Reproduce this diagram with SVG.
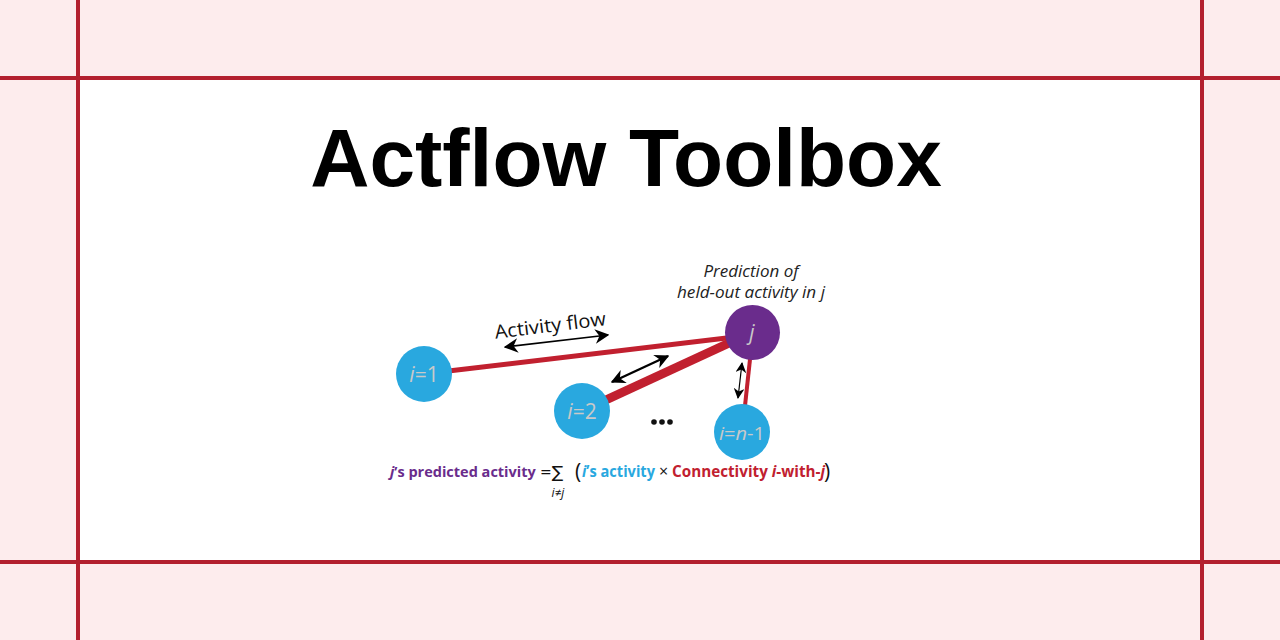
<svg xmlns="http://www.w3.org/2000/svg" width="1280" height="640" viewBox="0 0 1280 640">
<defs>
<style>
.grid{stroke:#b31f2e;stroke-width:4}
.edge{stroke:#c1202f;fill:none}
.arr{stroke:#000;fill:none}
.node-i{fill:#29a8df}
.node-j{fill:#6a2c8c}
.lbl{font-family:"Open Sans","Noto Sans",sans-serif;fill:#c9c9c9;font-size:21px;text-anchor:middle}
.note{font-family:"Open Sans","Noto Sans",sans-serif;font-style:italic;font-size:16px;fill:#222;text-anchor:middle}
.f{font-family:"Open Sans","Noto Sans",sans-serif;font-weight:bold;font-size:15.5px}
.sym{font-family:"DejaVu Sans","Noto Sans",sans-serif;fill:#111}
</style>
<marker id="ahs" viewBox="0 0 10 10" refX="9" refY="5" markerWidth="9" markerHeight="9" orient="auto-start-reverse" markerUnits="strokeWidth">
<path d="M0,0 L10,5 L0,10 L3,5 Z" fill="#000"/>
</marker>
<marker id="ahm" viewBox="0 0 10 10" refX="9" refY="5" markerWidth="6" markerHeight="6" orient="auto-start-reverse" markerUnits="strokeWidth">
<path d="M0,0 L10,5 L0,10 L3,5 Z" fill="#000"/>
</marker>
</defs>
<rect width="1280" height="640" fill="#fdeced"/>
<rect x="78" y="78" width="1124" height="484" fill="#fff"/>
<g id="grid">
<line class="grid" x1="78" y1="0" x2="78" y2="640"/>
<line class="grid" x1="1202" y1="0" x2="1202" y2="640"/>
<line class="grid" x1="0" y1="78" x2="1280" y2="78"/>
<line class="grid" x1="0" y1="562" x2="1280" y2="562"/>
</g>
<text id="title" x="626" y="186" font-family="Liberation Sans, Arial, sans-serif" font-weight="bold" font-size="82" text-anchor="middle" fill="#000">Actflow Toolbox</text>
<g id="connectors">
<line class="edge" x1="440" y1="372" x2="735" y2="337" stroke-width="5"/>
<line class="edge" x1="595" y1="405" x2="740" y2="338" stroke-width="9"/>
<line class="edge" x1="751" y1="350" x2="744" y2="415" stroke-width="4"/>
<line class="arr" x1="505" y1="347" x2="608" y2="335" stroke-width="1.6" marker-start="url(#ahs)" marker-end="url(#ahs)"/>
<line class="arr" x1="612" y1="382" x2="668" y2="356" stroke-width="2.4" marker-start="url(#ahm)" marker-end="url(#ahm)"/>
<line class="arr" x1="742" y1="363" x2="738" y2="398" stroke-width="1.2" marker-start="url(#ahs)" marker-end="url(#ahs)"/>
</g>
<text id="flow-label" transform="translate(551,332) rotate(-7)" font-family="Open Sans, Noto Sans, sans-serif" font-size="19" text-anchor="middle" fill="#111" textLength="112" lengthAdjust="spacingAndGlyphs">Activity flow</text>
<g id="node-j">
<circle class="node-j" cx="752.5" cy="332.5" r="27.5"/>
<text class="lbl" x="752" y="340" font-style="italic">j</text>
<text class="note" x="751" y="277" textLength="95" lengthAdjust="spacingAndGlyphs">Prediction of</text>
<text class="note" x="751" y="298" textLength="148" lengthAdjust="spacingAndGlyphs">held-out activity in j</text>
</g>
<g id="node-i1">
<circle class="node-i" cx="424" cy="374" r="28"/>
<text class="lbl" x="424" y="382"><tspan font-style="italic">i</tspan>=1</text>
</g>
<g id="node-i2">
<circle class="node-i" cx="582" cy="411" r="28"/>
<text class="lbl" x="582" y="419"><tspan font-style="italic">i</tspan>=2</text>
</g>
<g id="node-in1">
<circle class="node-i" cx="742" cy="432" r="28"/>
<text class="lbl" x="742" y="440" style="font-size:19px" textLength="46" lengthAdjust="spacingAndGlyphs"><tspan font-style="italic">i</tspan>=<tspan font-style="italic">n</tspan>-1</text>
</g>
<g id="ellipsis" fill="#111">
<circle cx="654" cy="422" r="2.8"/>
<circle cx="662" cy="422" r="2.8"/>
<circle cx="670" cy="422" r="2.8"/>
</g>
<g id="formula">
<text class="f" x="390" y="477" fill="#6a2c8c" style="font-size:14.5px"><tspan font-style="italic">j</tspan>’s predicted activity</text>
<text class="sym" x="540" y="477"><tspan style="font-size:14px">=</tspan><tspan style="font-size:17px" dy="1">∑</tspan></text>
<text x="558" y="497" font-family="Open Sans, Noto Sans, sans-serif" font-style="italic" font-size="12" text-anchor="middle" fill="#111">i≠j</text>
<text x="575" y="479" font-family="Open Sans, Noto Sans, sans-serif" font-size="21" fill="#111">(</text>
<text class="f" x="582" y="477" fill="#29a8df" textLength="73" lengthAdjust="spacingAndGlyphs"><tspan font-style="italic">i</tspan>’s activity</text>
<text x="659" y="477" font-family="Open Sans, Noto Sans, sans-serif" font-size="16" fill="#111">×</text>
<text class="f" x="672" y="477" fill="#c1202f" textLength="153" lengthAdjust="spacingAndGlyphs">Connectivity <tspan font-style="italic">i</tspan>-with-<tspan font-style="italic">j</tspan></text>
<text x="824" y="479" font-family="Open Sans, Noto Sans, sans-serif" font-size="21" fill="#111">)</text>
</g>
</svg>
